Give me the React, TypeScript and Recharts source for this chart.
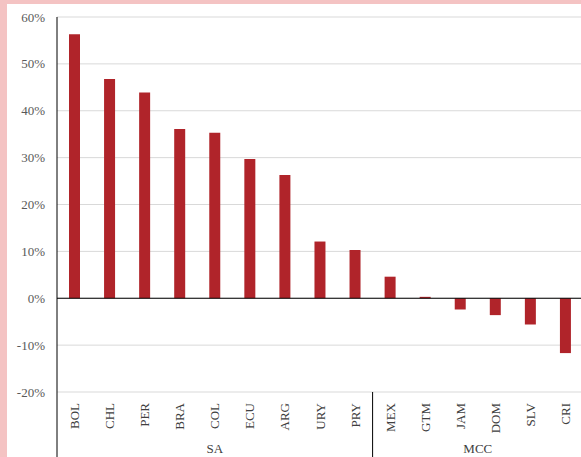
import React from "react";
import { BarChart, Bar, XAxis, YAxis, CartesianGrid, ReferenceLine } from "recharts";

const codes = ["BOL", "CHL", "PER", "BRA", "COL", "ECU", "ARG", "URY", "PRY", "MEX", "GTM", "JAM", "DOM", "SLV", "CRI"];
const values = [56.3, 46.8, 43.9, 36.1, 35.3, 29.7, 26.3, 12.1, 10.3, 4.6, 0.3, -2.4, -3.6, -5.6, -11.7];
const groups = ["SA", "SA", "SA", "SA", "SA", "SA", "SA", "SA", "SA", "MCC", "MCC", "MCC", "MCC", "MCC", "MCC"];
const yTicks = [-20, -10, 0, 10, 20, 30, 40, 50, 60];

const data = codes.map((c, i) => ({ code: c, value: values[i], group: groups[i] }));

const FONT = "'Liberation Serif', 'Times New Roman', serif";

const groupLabelAt = (i: number) => {
  // label placed at the middle of each group's run
  let start = i;
  while (start > 0 && groups[start - 1] === groups[i]) start--;
  let end = i;
  while (end < groups.length - 1 && groups[end + 1] === groups[i]) end++;
  const mid = (start + end) / 2;
  return { isStart: start === i, mid, start };
};

const CatTick = (props: any) => {
  const { x, y, payload, index } = props;
  const off = payload && typeof payload.offset === "number" && payload.offset > 0 ? payload.offset : 17.5;
  const info = groupLabelAt(index);
  const els: React.ReactNode[] = [];
  if (info.isStart) {
    els.push(<line key="sep" x1={x - off} x2={x - off} y1={y} y2={y + 80} stroke="#000" strokeWidth={1} />);
  }
  if (Math.floor(info.mid) === index) {
    const gx = x + (info.mid - index) * 2 * off;
    els.push(
      <text key="grp" x={gx} y={y + 61} textAnchor="middle" fontSize={13} fontFamily={FONT} fill="#404040">
        {groups[index]}
      </text>
    );
  }
  els.push(
    <text
      key="lbl"
      x={x}
      y={y + 11}
      transform={`rotate(-90, ${x}, ${y + 11})`}
      textAnchor="end"
      dominantBaseline="central"
      fontSize={13}
      fontFamily={FONT}
      fill="#404040"
    >
      {payload.value}
    </text>
  );
  return <g>{els}</g>;
};

export default function App() {
  return (
    <div style={{ position: "absolute", left: 0, top: 0, width: 581, height: 457, background: "#F4C3C3", overflow: "hidden" }}>
      <div style={{ position: "absolute", left: 7, top: 4, width: 574, height: 453, background: "#fff", overflow: "hidden" }}>
        <BarChart width={577} height={453} data={data} margin={{ top: 13, right: 1, left: 0, bottom: 0 }}>
          <CartesianGrid horizontal vertical={false} stroke="#D9D9D9" strokeWidth={1} />
          <XAxis
            dataKey="code"
            height={65}
            axisLine={false}
            tickLine={false}
            tickSize={0}
            tickMargin={0}
            interval={0}
            tick={<CatTick />}
          />
          <YAxis
            width={50}
            domain={[-20, 60]}
            ticks={yTicks}
            interval={0}
            tickFormatter={(v: number) => `${v}%`}
            axisLine={{ stroke: "#000", strokeWidth: 1 }}
            tickLine={false}
            tickSize={0}
            tickMargin={12}
            tick={{ fontSize: 13, fontFamily: FONT, fill: "#595959" }}
          />
          <ReferenceLine y={0} stroke="#000" strokeWidth={1} />
          <Bar dataKey="value" fill="#B0242A" barSize={11} isAnimationActive={false} />
        </BarChart>
      </div>
    </div>
  );
}
